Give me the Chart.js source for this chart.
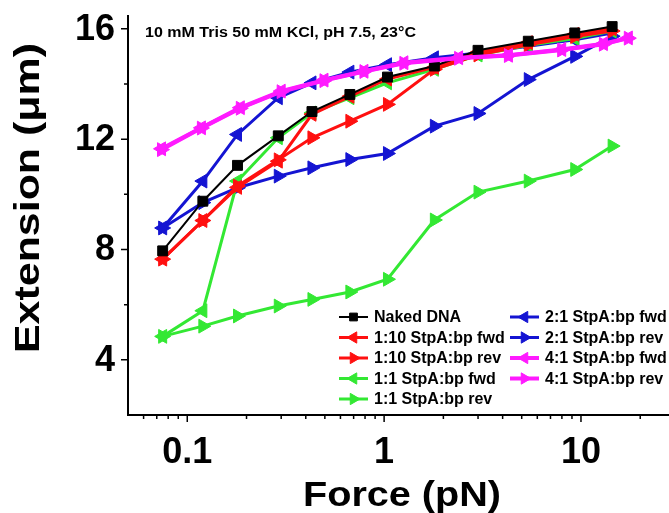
<!DOCTYPE html>
<html>
<head>
<meta charset="utf-8">
<script src="https://cdn.jsdelivr.net/npm/chart.js@4.4.0/dist/chart.umd.min.js"></script>
<style>
  html, body { margin: 0; padding: 0; background: #fff; }
</style>
</head>
<body>
<canvas id="chart" width="669" height="513"></canvas>
<script>
// Force (pN) for most series, and for the 4:1 series
const forceMain = [0.075, 0.12, 0.18, 0.29, 0.43, 0.67, 1.04, 1.8, 3.0, 5.4, 9.3, 14.4];
const force41 = [0.074, 0.118, 0.186, 0.30, 0.495, 0.79, 1.26, 2.39, 4.28, 7.98, 13.0, 17.4];

// Extension (um)
const nakedDNA = [7.95, 9.75, 11.05, 12.12, 13.0, 13.62, 14.25, 14.65, 15.22, 15.55, 15.85, 16.08];
const s110fwd = [7.65, 9.05, 10.25, 11.2, 12.9, 13.55, 14.18, 14.6, 15.15, 15.5, 15.8, 16.0];
const s110rev = [7.65, 9.05, 10.3, 11.25, 12.05, 12.65, 13.26, 14.53, 15.05, 15.42, 15.72, 15.92];
const s11fwd = [4.85, 5.78, 10.48, 12.05, 12.95, 13.5, 14.04, 14.53, 15.05, 15.4, 15.65, 15.92];
const s11rev = [4.85, 5.22, 5.59, 5.95, 6.19, 6.46, 6.92, 9.07, 10.08, 10.48, 10.9, 11.75];
const s21fwd = [8.78, 10.48, 12.17, 13.5, 14.04, 14.43, 14.7, 14.95, 15.12, 15.37, 15.6, 15.85];
const s21rev = [8.78, 9.7, 10.24, 10.66, 10.96, 11.26, 11.48, 12.47, 12.93, 14.16, 15.0, 15.73];
const s41fwd = [11.65, 12.41, 13.14, 13.74, 14.14, 14.46, 14.77, 14.95, 15.04, 15.25, 15.46, 15.67];
const s41rev = [11.62, 12.4, 13.12, 13.72, 14.12, 14.45, 14.75, 14.93, 15.03, 15.23, 15.44, 15.66];

// Axis ticks
const xMajorTicks = [0.1, 1, 10];
const xMinorTicks = [0.06, 0.07, 0.08, 0.09, 0.2, 0.3, 0.4, 0.5, 0.6, 0.7, 0.8, 0.9, 2, 3, 4, 5, 6, 7, 8, 9, 20];
const yMajorTicks = [4, 8, 12, 16];
const yMinorTicks = [6, 10, 14];

const FONT = '"Liberation Sans", Arial, sans-serif';
const RED = '#ff1010', GREEN = '#33e833', BLUE = '#1414d2', PINK = '#ff1aff';

// style for each series (fwd = left triangle, rev = right triangle)
const series = [
    { label: 'Naked DNA', x: forceMain, y: nakedDNA, color: '#000000', style: 'rect', rot: 0, width: 2, radius: 7, order: 1 },
    { label: '1:10 StpA:bp fwd', x: forceMain, y: s110fwd, color: RED, style: 'triangle', rot: -90, width: 3, radius: 8, order: 2 },
    { label: '1:10 StpA:bp rev', x: forceMain, y: s110rev, color: RED, style: 'triangle', rot: 90, width: 3, radius: 8, order: 2 },
    { label: '1:1 StpA:bp fwd', x: forceMain, y: s11fwd, color: GREEN, style: 'triangle', rot: -90, width: 3, radius: 8, order: 2 },
    { label: '1:1 StpA:bp rev', x: forceMain, y: s11rev, color: GREEN, style: 'triangle', rot: 90, width: 3, radius: 8, order: 2 },
    { label: '2:1 StpA:bp fwd', x: forceMain, y: s21fwd, color: BLUE, style: 'triangle', rot: -90, width: 3, radius: 8, order: 2 },
    { label: '2:1 StpA:bp rev', x: forceMain, y: s21rev, color: BLUE, style: 'triangle', rot: 90, width: 3, radius: 8, order: 2 },
    { label: '4:1 StpA:bp fwd', x: force41, y: s41fwd, color: PINK, style: 'triangle', rot: -90, width: 4, radius: 8, order: 0 },
    { label: '4:1 StpA:bp rev', x: force41, y: s41rev, color: PINK, style: 'triangle', rot: 90, width: 4, radius: 8, order: 0 }
];

function points(xs, ys) {
    return xs.map((x, i) => ({ x: x, y: ys[i] }));
}

// draw bold text stretched to a given width
function fitText(ctx, text, x, y, size, width, align) {
    ctx.font = 'bold ' + size + 'px ' + FONT;
    const natural = ctx.measureText(text).width;
    const sx = width ? width / natural : 1;
    ctx.save();
    ctx.translate(x, y);
    ctx.scale(sx, 1);
    ctx.textAlign = align;
    ctx.fillText(text, 0, 0);
    ctx.restore();
}

// Axis lines, ticks, labels and titles
const axisPlugin = {
    id: 'axisPlugin',
    afterDraw(chart) {
        const { ctx, chartArea: a, scales: { x, y } } = chart;
        ctx.save();
        ctx.strokeStyle = '#000';
        ctx.fillStyle = '#000';
        ctx.lineWidth = 2;
        ctx.beginPath();
        ctx.moveTo(a.left, a.top);
        ctx.lineTo(a.left, a.bottom);
        ctx.lineTo(a.right, a.bottom);
        ctx.stroke();

        ctx.lineWidth = 1.5;
        ctx.beginPath();
        yMajorTicks.forEach(v => { const py = y.getPixelForValue(v); ctx.moveTo(a.left, py); ctx.lineTo(a.left - 7, py); });
        yMinorTicks.forEach(v => { const py = y.getPixelForValue(v); ctx.moveTo(a.left, py); ctx.lineTo(a.left - 4, py); });
        xMajorTicks.forEach(v => { const px = x.getPixelForValue(v); ctx.moveTo(px, a.bottom); ctx.lineTo(px, a.bottom + 7); });
        xMinorTicks.forEach(v => { const px = x.getPixelForValue(v); ctx.moveTo(px, a.bottom); ctx.lineTo(px, a.bottom + 4); });
        ctx.stroke();

        ctx.font = 'bold 36px ' + FONT;
        ctx.textBaseline = 'middle';
        ctx.textAlign = 'right';
        yMajorTicks.forEach(v => ctx.fillText(String(v), a.left - 13, y.getPixelForValue(v) + 1));
        ctx.textAlign = 'center';
        xMajorTicks.forEach(v => ctx.fillText(String(v), x.getPixelForValue(v), a.bottom + 38));

        ctx.textBaseline = 'alphabetic';
        fitText(ctx, 'Force (pN)', 402, 506, 35, 198, 'center');
        ctx.save();
        ctx.translate(39, 198);
        ctx.rotate(-Math.PI / 2);
        fitText(ctx, 'Extension (\u03bcm)', 0, 0, 35, 310, 'center');
        ctx.restore();

        fitText(ctx, '10 mM Tris 50 mM KCl, pH 7.5, 23\u00b0C', a.left + 17, a.top + 22, 14, 271, 'left');
        ctx.restore();
    }
};

// Two column legend inside the plot
const legendPlugin = {
    id: 'legendPlugin',
    afterDraw(chart) {
        const ctx = chart.ctx;
        ctx.save();
        ctx.font = 'bold 16px ' + FONT;
        ctx.textBaseline = 'middle';
        ctx.textAlign = 'left';
        series.forEach((s, i) => {
            const col = i < 5 ? 0 : 1;
            const row = i < 5 ? i : i - 5;
            const lx = col === 0 ? 339 : 510;
            const ly = 317 + row * 20.5;
            ctx.strokeStyle = s.color;
            ctx.fillStyle = s.color;
            ctx.lineWidth = s.width;
            ctx.beginPath();
            ctx.moveTo(lx, ly);
            ctx.lineTo(lx + 29, ly);
            ctx.stroke();
            ctx.lineWidth = 1;
            Chart.helpers.drawPoint(ctx, { pointStyle: s.style, radius: s.radius - 1.5, rotation: s.rot, borderWidth: 1 }, lx + 14.5, ly);
            ctx.fillStyle = '#000';
            ctx.fillText(s.label, lx + 35, ly + 1);
        });
        ctx.restore();
    }
};

const ctx = document.getElementById('chart').getContext('2d');
const myChart = new Chart(ctx, {
    type: 'scatter',
    data: {
        datasets: series.map(s => ({
            label: s.label,
            data: points(s.x, s.y),
            showLine: true,
            borderColor: s.color,
            backgroundColor: s.color,
            borderWidth: s.width,
            pointStyle: s.style,
            pointRotation: s.rot,
            pointRadius: s.radius,
            pointBorderWidth: 1,
            pointBorderColor: s.color,
            order: s.order
        }))
    },
    options: {
        responsive: false,
        animation: false,
        layout: { autoPadding: false, padding: { left: 128, right: 0, top: 15, bottom: 98 } },
        plugins: { legend: { display: false }, tooltip: { enabled: false } },
        scales: {
            x: {
                type: 'logarithmic', min: 0.05, max: 28,
                grid: { display: false, drawTicks: false },
                border: { display: false },
                ticks: { display: false }
            },
            y: {
                type: 'linear', min: 2, max: 16.5,
                grid: { display: false, drawTicks: false },
                border: { display: false },
                ticks: { display: false }
            }
        }
    },
    plugins: [axisPlugin, legendPlugin]
});
</script>
</body>
</html>
